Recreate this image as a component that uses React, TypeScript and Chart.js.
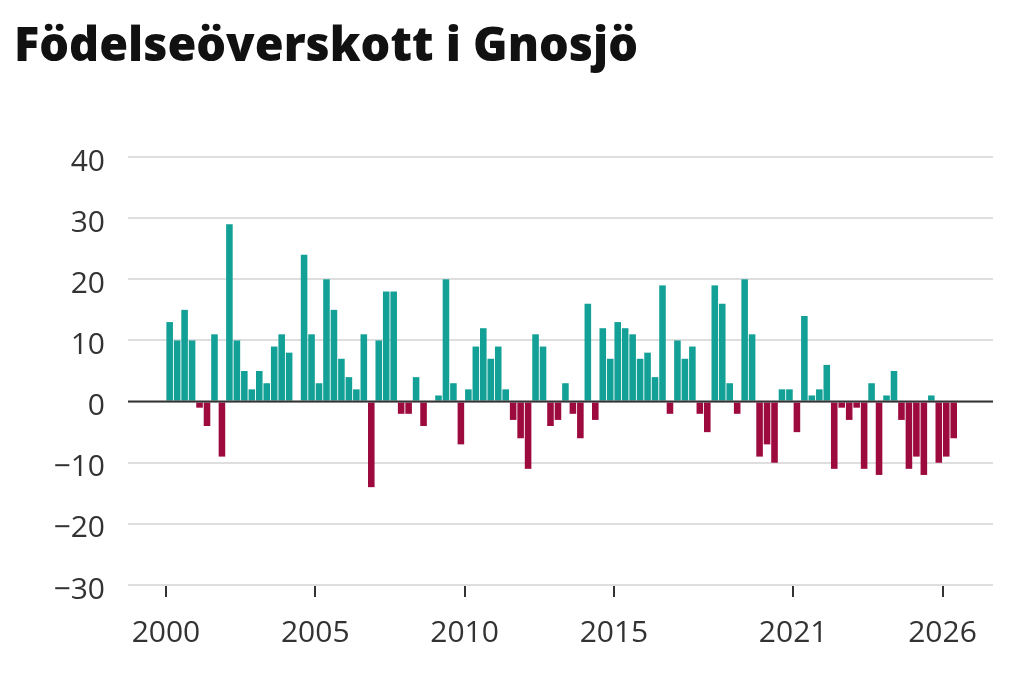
import React, { useEffect, useLayoutEffect, useRef } from "react";
import { Chart, registerables } from "chart.js";

Chart.register(...registerables);

const TITLE = "Födelseöverskott i Gnosjö";

// Quarterly birth surplus, 2000 K1 .. 2026 K2
const START_YEAR = 2000;
const values: number[] = [
  13, 10, 15, 10, // 2000
  -1, -4, 11, -9, // 2001
  29, 10, 5, 2, // 2002
  5, 3, 9, 11, // 2003
  8, 0, 24, 11, // 2004
  3, 20, 15, 7, // 2005
  4, 2, 11, -14, // 2006
  10, 18, 18, -2, // 2007
  -2, 4, -4, 0, // 2008
  1, 20, 3, -7, // 2009
  2, 9, 12, 7, // 2010
  9, 2, -3, -6, // 2011
  -11, 11, 9, -4, // 2012
  -3, 3, -2, -6, // 2013
  16, -3, 12, 7, // 2014
  13, 12, 11, 7, // 2015
  8, 4, 19, -2, // 2016
  10, 7, 9, -2, // 2017
  -5, 19, 16, 3, // 2018
  -2, 20, 11, -9, // 2019
  -7, -10, 2, 2, // 2020
  -5, 14, 1, 2, // 2021
  6, -11, -1, -3, // 2022
  -1, -11, 3, -12, // 2023
  1, 5, -3, -11, // 2024
  -9, -12, 1, -10, // 2025
  -9, -6, // 2026
];
const periods: string[] = values.map(
  (_, i) => `${START_YEAR + Math.floor(i / 4)}K${(i % 4) + 1}`
);
const xTickYears = [2000, 2005, 2010, 2015, 2021, 2026];
const yTickValues = [-30, -20, -10, 0, 10, 20, 30, 40];

const POS_COLOR = "#13a096";
const NEG_COLOR = "#9c0a3e";
const TEXT_COLOR = "#333333";
const FONT = "'Open Sans', 'DejaVu Sans', sans-serif";

function periodToX(p: string): number {
  const [y, q] = p.split("K").map(Number);
  return y + (q - 0.5) / 4;
}

const zeroLinePlugin = {
  id: "zeroLine",
  afterDatasetsDraw(chart: any) {
    const { ctx, chartArea, scales } = chart;
    const y = scales.y.getPixelForValue(0);
    ctx.save();
    ctx.strokeStyle = TEXT_COLOR;
    ctx.lineWidth = 2;
    ctx.beginPath();
    ctx.moveTo(chartArea.left, y);
    ctx.lineTo(chartArea.right, y);
    ctx.stroke();
    ctx.restore();
  },
};

export default function App() {
  const canvasRef = useRef<HTMLCanvasElement | null>(null);
  const titleRef = useRef<HTMLDivElement | null>(null);

  useLayoutEffect(() => {
    const el = titleRef.current;
    if (!el) return;
    const w = el.getBoundingClientRect().width;
    if (w > 0) el.style.transform = `scaleX(${624 / w})`;
  }, []);

  useEffect(() => {
    const canvas = canvasRef.current;
    if (!canvas) return;
    const data = periods.map((p, i) => ({ x: periodToX(p), y: values[i] }));
    const chart = new Chart(canvas, {
      type: "bar",
      data: {
        datasets: [
          {
            data: data as any,
            backgroundColor: values.map((v) => (v < 0 ? NEG_COLOR : POS_COLOR)),
            borderWidth: 0,
            barPercentage: 0.88,
            categoryPercentage: 1,
          },
        ],
      },
      options: {
        animation: false,
        responsive: false,
        devicePixelRatio: 1,
        layout: { padding: { top: 157, right: 31, left: 0, bottom: 0 } },
        plugins: { legend: { display: false }, tooltip: { enabled: false }, title: { display: false } },
        scales: {
          x: {
            type: "linear",
            offset: false,
            min: 1998.73,
            max: 2027.69,
            border: { display: false },
            grid: {
              offset: false,
              drawOnChartArea: false,
              drawTicks: true,
              tickLength: 12,
              color: TEXT_COLOR,
              lineWidth: 2,
            },
            afterBuildTicks: (scale: any) => {
              scale.ticks = xTickYears.map((v) => ({ value: v }));
            },
            afterFit: (scale: any) => {
              scale.height = 104;
            },
            ticks: {
              autoSkip: false,
              maxRotation: 0,
              padding: 18,
              color: TEXT_COLOR,
              font: { family: FONT, size: 30 },
              callback: (v: any) => String(v),
            },
          },
          y: {
            min: -30,
            max: 40,
            border: { display: false },
            afterBuildTicks: (scale: any) => {
              scale.ticks = yTickValues.map((v) => ({ value: v }));
            },
            afterFit: (scale: any) => {
              scale.width = 128;
            },
            grid: {
              drawTicks: false,
              color: "#dedede",
              lineWidth: 2,
            },
            ticks: {
              padding: 23,
              labelOffset: 5,
              color: TEXT_COLOR,
              font: { family: FONT, size: 30 },
              callback: (v: any) => (Number(v) < 0 ? "\u2212" + Math.abs(Number(v)) : String(v)),
            },
          },
        },
      },
      plugins: [zeroLinePlugin],
    });
    return () => chart.destroy();
  }, []);

  return (
    <div
      style={{
        position: "fixed",
        left: 0,
        top: 0,
        width: 1024,
        height: 689,
        background: "#ffffff",
        overflow: "hidden",
      }}
    >
      <canvas
        ref={canvasRef}
        width={1024}
        height={689}
        style={{ position: "absolute", left: 0, top: 0, width: 1024, height: 689 }}
      />
      <div
        ref={titleRef}
        style={{
          position: "absolute",
          left: 14,
          top: 19,
          fontFamily: FONT,
          fontWeight: 800,
          fontSize: 48,
          lineHeight: "48px",
          color: "#111111",
          whiteSpace: "nowrap",
          transformOrigin: "left top",
          display: "inline-block",
        }}
      >
        {TITLE}
      </div>
    </div>
  );
}
